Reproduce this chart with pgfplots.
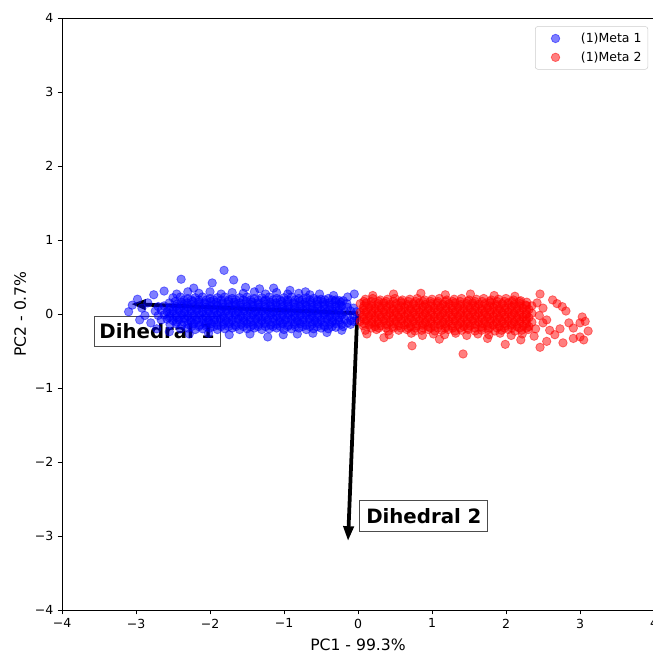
\documentclass[border=0pt]{standalone}
\usepackage{fontspec}
\setmainfont{DejaVu Sans}
\usepackage{pgfplots}
\pgfplotsset{compat=1.18}
\usetikzlibrary{arrows.meta}
\begin{document}
\begin{tikzpicture}
\useasboundingbox (-49.6pt,-34.4pt) rectangle (472.8pt,488pt);
\begin{axis}[
 scale only axis, width=473.6pt, height=473.6pt,
 xmin=-4, xmax=4, ymin=-4, ymax=4,
 xtick={-4,-3,-2,-1,0,1,2,3,4}, ytick={-4,-3,-2,-1,0,1,2,3,4},
 xticklabels={−4,−3,−2,−1,0,1,2,3,4},
 yticklabels={−4,−3,−2,−1,0,1,2,3,4},
 tick align=outside, xtick pos=bottom, ytick pos=left,
 major tick length=3.5pt,
 tick style={black, line width=0.64pt},
 axis line style={line width=0.64pt},
 ticklabel style={font=\fontsize{10}{12}\selectfont},
 xlabel={PC1 - 99.3\%}, ylabel={PC2 - 0.7\%},
 xlabel style={yshift=-1.5pt},
 label style={font=\fontsize{12.5}{15}\selectfont},
 legend cell align=left,
 legend image code/.code={\path[draw=none,fill=none] (0pt,-3pt) rectangle (31.5pt,3pt); \draw[#1] plot coordinates {(13.2pt,0pt)};},
 legend style={at={(0.99,0.986)}, anchor=north east, draw=black!20, rounded corners=2pt,
   font=\fontsize{10}{12}\selectfont, inner xsep=3pt, inner ysep=3pt, row sep=2pt},
 m1/.style={only marks, mark=*, mark size=3.4pt, mark options={fill=blue, draw=blue, fill opacity=0.5, draw opacity=0.5, line width=0.6pt}},
 m2/.style={only marks, mark=*, mark size=3.4pt, mark options={fill=red, draw=red, fill opacity=0.5, draw opacity=0.5, line width=0.6pt}},
]
% Meta 1
\addplot[m1] coordinates {
(-3.10,0.03) (-3.05,0.12) (-2.98,0.20) (-2.92,0.08) (-2.88,-0.02) (-2.95,-0.08) (-2.84,0.15) (-2.76,0.26) (-2.62,0.31) (-2.39,0.47) (-2.22,0.35) (-1.97,0.42) (-1.81,0.59) (-1.68,0.46) (-1.52,0.36) (-1.33,0.34) (-1.14,0.35) (-0.92,0.32) (-0.71,0.30) (-0.52,0.27) (-0.33,0.25) (-0.14,0.23) (-0.05,0.27)
(-2.80,-0.12) (-2.72,-0.20) (-2.55,-0.24) (-2.28,-0.27) (-2.02,-0.26) (-1.74,-0.28) (-1.46,-0.27) (-1.22,-0.31) (-1.01,-0.28) (-0.82,-0.27) (-0.61,-0.26) (-0.42,-0.25) (-0.22,-0.22)
(-2.45,0.27) (-2.30,0.30) (-2.15,0.28) (-2.00,0.30) (-1.85,0.27) (-1.70,0.29) (-1.55,0.28) (-1.40,0.30) (-1.25,0.27) (-1.10,0.29) (-0.95,0.27) (-0.80,0.28) (-0.65,0.26)
(-2.50,0.22) (-2.40,0.23) (-2.30,0.21) (-2.20,0.22) (-2.10,0.23) (-2.00,0.21) (-1.90,0.22) (-1.80,0.23) (-1.70,0.21) (-1.60,0.22) (-1.50,0.23) (-1.40,0.21) (-1.30,0.22) (-1.20,0.23) (-1.10,0.21) (-1.00,0.22) (-0.90,0.23) (-0.80,0.21) (-0.70,0.22) (-0.60,0.21) (-0.50,0.20) (-0.40,0.21) (-0.30,0.19) (-0.20,0.18)
(-2.55,0.15) (-2.47,0.17) (-2.39,0.16) (-2.31,0.15) (-2.23,0.17) (-2.15,0.16) (-2.07,0.15) (-1.99,0.17) (-1.91,0.16) (-1.83,0.15) (-1.75,0.17) (-1.67,0.16) (-1.59,0.15) (-1.51,0.17) (-1.43,0.16) (-1.35,0.15) (-1.27,0.17) (-1.19,0.16) (-1.11,0.15) (-1.03,0.17) (-0.95,0.16) (-0.87,0.15) (-0.79,0.17) (-0.71,0.16) (-0.63,0.15) (-0.55,0.17) (-0.47,0.16) (-0.39,0.15) (-0.31,0.17) (-0.23,0.16) (-0.15,0.14)
(-2.70,0.10) (-2.62,0.11) (-2.54,0.09) (-2.46,0.10) (-2.38,0.11) (-2.30,0.09) (-2.22,0.10) (-2.14,0.11) (-2.06,0.09) (-1.98,0.10) (-1.90,0.11) (-1.82,0.09) (-1.74,0.10) (-1.66,0.11) (-1.58,0.09) (-1.50,0.10) (-1.42,0.11) (-1.34,0.09) (-1.26,0.10) (-1.18,0.11) (-1.10,0.09) (-1.02,0.10) (-0.94,0.11) (-0.86,0.09) (-0.78,0.10) (-0.70,0.11) (-0.62,0.09) (-0.54,0.10) (-0.46,0.11) (-0.38,0.09) (-0.30,0.10) (-0.22,0.11) (-0.14,0.09) (-0.06,0.08)
(-2.74,0.04) (-2.66,0.05) (-2.58,0.03) (-2.50,0.04) (-2.42,0.05) (-2.34,0.03) (-2.26,0.04) (-2.18,0.05) (-2.10,0.03) (-2.02,0.04) (-1.94,0.05) (-1.86,0.03) (-1.78,0.04) (-1.70,0.05) (-1.62,0.03) (-1.54,0.04) (-1.46,0.05) (-1.38,0.03) (-1.30,0.04) (-1.22,0.05) (-1.14,0.03) (-1.06,0.04) (-0.98,0.05) (-0.90,0.03) (-0.82,0.04) (-0.74,0.05) (-0.66,0.03) (-0.58,0.04) (-0.50,0.05) (-0.42,0.03) (-0.34,0.04) (-0.26,0.05) (-0.18,0.03) (-0.10,0.04) (-0.02,0.03)
(-2.70,-0.02) (-2.62,-0.01) (-2.54,-0.03) (-2.46,-0.02) (-2.38,-0.01) (-2.30,-0.03) (-2.22,-0.02) (-2.14,-0.01) (-2.06,-0.03) (-1.98,-0.02) (-1.90,-0.01) (-1.82,-0.03) (-1.74,-0.02) (-1.66,-0.01) (-1.58,-0.03) (-1.50,-0.02) (-1.42,-0.01) (-1.34,-0.03) (-1.26,-0.02) (-1.18,-0.01) (-1.10,-0.03) (-1.02,-0.02) (-0.94,-0.01) (-0.86,-0.03) (-0.78,-0.02) (-0.70,-0.01) (-0.62,-0.03) (-0.54,-0.02) (-0.46,-0.01) (-0.38,-0.03) (-0.30,-0.02) (-0.22,-0.01) (-0.14,-0.03) (-0.06,-0.02)
(-2.66,-0.08) (-2.58,-0.07) (-2.50,-0.09) (-2.42,-0.08) (-2.34,-0.07) (-2.26,-0.09) (-2.18,-0.08) (-2.10,-0.07) (-2.02,-0.09) (-1.94,-0.08) (-1.86,-0.07) (-1.78,-0.09) (-1.70,-0.08) (-1.62,-0.07) (-1.54,-0.09) (-1.46,-0.08) (-1.38,-0.07) (-1.30,-0.09) (-1.22,-0.08) (-1.14,-0.07) (-1.06,-0.09) (-0.98,-0.08) (-0.90,-0.07) (-0.82,-0.09) (-0.74,-0.08) (-0.66,-0.07) (-0.58,-0.09) (-0.50,-0.08) (-0.42,-0.07) (-0.34,-0.09) (-0.26,-0.08) (-0.18,-0.07) (-0.10,-0.09) (-0.02,-0.06)
(-2.54,-0.14) (-2.46,-0.13) (-2.38,-0.15) (-2.30,-0.14) (-2.22,-0.13) (-2.14,-0.15) (-2.06,-0.14) (-1.98,-0.13) (-1.90,-0.15) (-1.82,-0.14) (-1.74,-0.13) (-1.66,-0.15) (-1.58,-0.14) (-1.50,-0.13) (-1.42,-0.15) (-1.34,-0.14) (-1.26,-0.13) (-1.18,-0.15) (-1.10,-0.14) (-1.02,-0.13) (-0.94,-0.15) (-0.86,-0.14) (-0.78,-0.13) (-0.70,-0.15) (-0.62,-0.14) (-0.54,-0.13) (-0.46,-0.15) (-0.38,-0.14) (-0.30,-0.13) (-0.22,-0.14) (-0.14,-0.12) (-0.06,-0.10)
(-2.40,-0.20) (-2.30,-0.19) (-2.20,-0.21) (-2.10,-0.20) (-2.00,-0.19) (-1.90,-0.21) (-1.80,-0.20) (-1.70,-0.19) (-1.60,-0.21) (-1.50,-0.20) (-1.40,-0.19) (-1.30,-0.21) (-1.20,-0.20) (-1.10,-0.19) (-1.00,-0.21) (-0.90,-0.20) (-0.80,-0.19) (-0.70,-0.21) (-0.60,-0.20) (-0.50,-0.19) (-0.40,-0.20) (-0.30,-0.18) (-0.20,-0.17) (-0.10,-0.14)
(-2.45,0.13) (-2.55,0.07) (-2.45,0.07) (-2.55,0.01) (-2.45,0.01) (-2.55,-0.05) (-2.45,-0.05) (-2.45,-0.11)
(-2.35,0.19) (-2.25,0.19) (-2.15,0.19) (-2.05,0.19) (-1.95,0.19) (-1.85,0.19) (-1.75,0.19) (-1.65,0.19) (-1.55,0.19) (-1.45,0.19) (-1.35,0.19) (-1.25,0.19) (-1.15,0.19) (-1.05,0.19) (-0.95,0.19) (-0.85,0.19) (-0.75,0.19) (-0.65,0.19) (-0.55,0.19) (-0.45,0.19) (-0.35,0.19) (-0.25,0.18)
(-2.35,0.13) (-2.25,0.13) (-2.15,0.13) (-2.05,0.13) (-1.95,0.13) (-1.85,0.13) (-1.75,0.13) (-1.65,0.13) (-1.55,0.13) (-1.45,0.13) (-1.35,0.13) (-1.25,0.13) (-1.15,0.13) (-1.05,0.13) (-0.95,0.13) (-0.85,0.13) (-0.75,0.13) (-0.65,0.13) (-0.55,0.13) (-0.45,0.13) (-0.35,0.13) (-0.25,0.13)
(-2.35,0.07) (-2.25,0.07) (-2.15,0.07) (-2.05,0.07) (-1.95,0.07) (-1.85,0.07) (-1.75,0.07) (-1.65,0.07) (-1.55,0.07) (-1.45,0.07) (-1.35,0.07) (-1.25,0.07) (-1.15,0.07) (-1.05,0.07) (-0.95,0.07) (-0.85,0.07) (-0.75,0.07) (-0.65,0.07) (-0.55,0.07) (-0.45,0.07) (-0.35,0.07) (-0.25,0.07)
(-2.35,0.01) (-2.25,0.01) (-2.15,0.01) (-2.05,0.01) (-1.95,0.01) (-1.85,0.01) (-1.75,0.01) (-1.65,0.01) (-1.55,0.01) (-1.45,0.01) (-1.35,0.01) (-1.25,0.01) (-1.15,0.01) (-1.05,0.01) (-0.95,0.01) (-0.85,0.01) (-0.75,0.01) (-0.65,0.01) (-0.55,0.01) (-0.45,0.01) (-0.35,0.01) (-0.25,0.01)
(-2.35,-0.05) (-2.25,-0.05) (-2.15,-0.05) (-2.05,-0.05) (-1.95,-0.05) (-1.85,-0.05) (-1.75,-0.05) (-1.65,-0.05) (-1.55,-0.05) (-1.45,-0.05) (-1.35,-0.05) (-1.25,-0.05) (-1.15,-0.05) (-1.05,-0.05) (-0.95,-0.05) (-0.85,-0.05) (-0.75,-0.05) (-0.65,-0.05) (-0.55,-0.05) (-0.45,-0.05) (-0.35,-0.05) (-0.25,-0.05)
(-2.35,-0.11) (-2.25,-0.11) (-2.15,-0.11) (-2.05,-0.11) (-1.95,-0.11) (-1.85,-0.11) (-1.75,-0.11) (-1.65,-0.11) (-1.55,-0.11) (-1.45,-0.11) (-1.35,-0.11) (-1.25,-0.11) (-1.15,-0.11) (-1.05,-0.11) (-0.95,-0.11) (-0.85,-0.11) (-0.75,-0.11) (-0.65,-0.11) (-0.55,-0.11) (-0.45,-0.11) (-0.35,-0.11) (-0.25,-0.11)
(-2.25,-0.17) (-2.15,-0.17) (-2.05,-0.17) (-1.95,-0.17) (-1.85,-0.17) (-1.75,-0.17) (-1.65,-0.17) (-1.55,-0.17) (-1.45,-0.17) (-1.35,-0.17) (-1.25,-0.17) (-1.15,-0.17) (-1.05,-0.17) (-0.95,-0.17) (-0.85,-0.17) (-0.75,-0.17) (-0.65,-0.17) (-0.55,-0.17) (-0.45,-0.17) (-0.35,-0.17)
};
\addlegendentry{(1)Meta 1}
% Meta 2
\addplot[m2] coordinates {
(0.20,0.25) (0.48,0.27) (0.85,0.28) (1.18,0.26) (1.52,0.27) (1.84,0.25) (2.12,0.24) (2.46,0.27) (2.63,0.19) (2.69,0.14) (2.76,0.10) (2.81,0.04) (2.42,0.15) (2.50,0.08) (2.45,-0.02) (2.55,-0.08) (2.50,-0.12) (2.59,-0.22) (2.66,-0.28) (2.73,-0.20) (2.85,-0.12) (2.91,-0.19) (3.00,-0.12) (3.03,-0.04) (3.07,-0.10) (3.11,-0.23) (3.05,-0.35) (3.00,-0.31) (2.91,-0.33) (2.77,-0.39) (2.55,-0.37) (2.46,-0.45) (2.38,-0.30) (2.40,-0.20) (1.99,-0.41) (1.42,-0.54) (0.73,-0.43) (0.35,-0.32) (1.10,-0.34) (1.75,-0.33) (2.20,-0.35)
(0.10,0.20) (0.20,0.21) (0.30,0.19) (0.40,0.20) (0.50,0.21) (0.60,0.19) (0.70,0.20) (0.80,0.21) (0.90,0.19) (1.00,0.20) (1.10,0.21) (1.20,0.19) (1.30,0.20) (1.40,0.21) (1.50,0.19) (1.60,0.20) (1.70,0.21) (1.80,0.19) (1.90,0.20) (2.00,0.21) (2.10,0.19) (2.20,0.18)
(0.03,0.14) (0.11,0.15) (0.19,0.13) (0.27,0.14) (0.35,0.15) (0.43,0.13) (0.51,0.14) (0.59,0.15) (0.67,0.13) (0.75,0.14) (0.83,0.15) (0.91,0.13) (0.99,0.14) (1.07,0.15) (1.15,0.13) (1.23,0.14) (1.31,0.15) (1.39,0.13) (1.47,0.14) (1.55,0.15) (1.63,0.13) (1.71,0.14) (1.79,0.15) (1.87,0.13) (1.95,0.14) (2.03,0.15) (2.11,0.13) (2.19,0.14) (2.27,0.12) (2.35,0.11)
(0.07,0.08) (0.15,0.09) (0.23,0.07) (0.31,0.08) (0.39,0.09) (0.47,0.07) (0.55,0.08) (0.63,0.09) (0.71,0.07) (0.79,0.08) (0.87,0.09) (0.95,0.07) (1.03,0.08) (1.11,0.09) (1.19,0.07) (1.27,0.08) (1.35,0.09) (1.43,0.07) (1.51,0.08) (1.59,0.09) (1.67,0.07) (1.75,0.08) (1.83,0.09) (1.91,0.07) (1.99,0.08) (2.07,0.09) (2.15,0.07) (2.23,0.08) (2.31,0.06)
(0.03,0.02) (0.11,0.03) (0.19,0.01) (0.27,0.02) (0.35,0.03) (0.43,0.01) (0.51,0.02) (0.59,0.03) (0.67,0.01) (0.75,0.02) (0.83,0.03) (0.91,0.01) (0.99,0.02) (1.07,0.03) (1.15,0.01) (1.23,0.02) (1.31,0.03) (1.39,0.01) (1.47,0.02) (1.55,0.03) (1.63,0.01) (1.71,0.02) (1.79,0.03) (1.87,0.01) (1.95,0.02) (2.03,0.03) (2.11,0.01) (2.19,0.02) (2.27,0.00) (2.35,0.01)
(0.07,-0.04) (0.15,-0.03) (0.23,-0.05) (0.31,-0.04) (0.39,-0.03) (0.47,-0.05) (0.55,-0.04) (0.63,-0.03) (0.71,-0.05) (0.79,-0.04) (0.87,-0.03) (0.95,-0.05) (1.03,-0.04) (1.11,-0.03) (1.19,-0.05) (1.27,-0.04) (1.35,-0.03) (1.43,-0.05) (1.51,-0.04) (1.59,-0.03) (1.67,-0.05) (1.75,-0.04) (1.83,-0.03) (1.91,-0.05) (1.99,-0.04) (2.07,-0.03) (2.15,-0.05) (2.23,-0.04) (2.31,-0.05)
(0.03,-0.10) (0.11,-0.09) (0.19,-0.11) (0.27,-0.10) (0.35,-0.09) (0.43,-0.11) (0.51,-0.10) (0.59,-0.09) (0.67,-0.11) (0.75,-0.10) (0.83,-0.09) (0.91,-0.11) (0.99,-0.10) (1.07,-0.09) (1.15,-0.11) (1.23,-0.10) (1.31,-0.09) (1.39,-0.11) (1.47,-0.10) (1.55,-0.09) (1.63,-0.11) (1.71,-0.10) (1.79,-0.09) (1.87,-0.11) (1.95,-0.10) (2.03,-0.09) (2.11,-0.11) (2.19,-0.10) (2.27,-0.09) (2.35,-0.11)
(0.07,-0.16) (0.15,-0.15) (0.23,-0.17) (0.31,-0.16) (0.39,-0.15) (0.47,-0.17) (0.55,-0.16) (0.63,-0.15) (0.71,-0.17) (0.79,-0.16) (0.87,-0.15) (0.95,-0.17) (1.03,-0.16) (1.11,-0.15) (1.19,-0.17) (1.27,-0.16) (1.35,-0.15) (1.43,-0.17) (1.51,-0.16) (1.59,-0.15) (1.67,-0.17) (1.75,-0.16) (1.83,-0.15) (1.91,-0.17) (1.99,-0.16) (2.07,-0.15) (2.15,-0.17) (2.23,-0.16) (2.31,-0.17)
(0.10,-0.22) (0.25,-0.21) (0.41,-0.23) (0.55,-0.22) (0.66,-0.21) (0.77,-0.23) (0.86,-0.22) (0.95,-0.21) (1.04,-0.23) (1.13,-0.22) (1.22,-0.21) (1.31,-0.23) (1.40,-0.22) (1.49,-0.21) (1.58,-0.23) (1.67,-0.22) (1.76,-0.21) (1.85,-0.23) (1.94,-0.22) (2.03,-0.21) (2.12,-0.23) (2.21,-0.22) (2.30,-0.21)
(0.12,-0.27) (0.42,-0.28) (0.72,-0.26) (0.87,-0.29) (1.02,-0.27) (1.17,-0.28) (1.32,-0.26) (1.47,-0.29) (1.62,-0.27) (1.77,-0.28) (1.92,-0.26) (2.07,-0.29) (2.22,-0.27)
(0.08,0.17) (0.18,0.17) (0.28,0.17) (0.38,0.17) (0.48,0.17) (0.58,0.17) (0.68,0.17) (0.78,0.17) (0.88,0.17) (0.98,0.17) (1.08,0.17) (1.18,0.17) (1.28,0.17) (1.38,0.17) (1.48,0.17) (1.58,0.17) (1.68,0.17) (1.78,0.17) (1.88,0.17) (1.98,0.17) (2.08,0.17) (2.18,0.17) (2.28,0.16)
(0.08,0.11) (0.18,0.11) (0.28,0.11) (0.38,0.11) (0.48,0.11) (0.58,0.11) (0.68,0.11) (0.78,0.11) (0.88,0.11) (0.98,0.11) (1.08,0.11) (1.18,0.11) (1.28,0.11) (1.38,0.11) (1.48,0.11) (1.58,0.11) (1.68,0.11) (1.78,0.11) (1.88,0.11) (1.98,0.11) (2.08,0.11) (2.18,0.11) (2.28,0.11)
(0.08,0.05) (0.18,0.05) (0.28,0.05) (0.38,0.05) (0.48,0.05) (0.58,0.05) (0.68,0.05) (0.78,0.05) (0.88,0.05) (0.98,0.05) (1.08,0.05) (1.18,0.05) (1.28,0.05) (1.38,0.05) (1.48,0.05) (1.58,0.05) (1.68,0.05) (1.78,0.05) (1.88,0.05) (1.98,0.05) (2.08,0.05) (2.18,0.05) (2.28,0.05)
(0.08,-0.01) (0.18,-0.01) (0.28,-0.01) (0.38,-0.01) (0.48,-0.01) (0.58,-0.01) (0.68,-0.01) (0.78,-0.01) (0.88,-0.01) (0.98,-0.01) (1.08,-0.01) (1.18,-0.01) (1.28,-0.01) (1.38,-0.01) (1.48,-0.01) (1.58,-0.01) (1.68,-0.01) (1.78,-0.01) (1.88,-0.01) (1.98,-0.01) (2.08,-0.01) (2.18,-0.01) (2.28,-0.01)
(0.08,-0.07) (0.18,-0.07) (0.28,-0.07) (0.38,-0.07) (0.48,-0.07) (0.58,-0.07) (0.68,-0.07) (0.78,-0.07) (0.88,-0.07) (0.98,-0.07) (1.08,-0.07) (1.18,-0.07) (1.28,-0.07) (1.38,-0.07) (1.48,-0.07) (1.58,-0.07) (1.68,-0.07) (1.78,-0.07) (1.88,-0.07) (1.98,-0.07) (2.08,-0.07) (2.18,-0.07) (2.28,-0.07)
(0.08,-0.13) (0.18,-0.13) (0.28,-0.13) (0.38,-0.13) (0.48,-0.13) (0.58,-0.13) (0.68,-0.13) (0.78,-0.13) (0.88,-0.13) (0.98,-0.13) (1.08,-0.13) (1.18,-0.13) (1.28,-0.13) (1.38,-0.13) (1.48,-0.13) (1.58,-0.13) (1.68,-0.13) (1.78,-0.13) (1.88,-0.13) (1.98,-0.13) (2.08,-0.13) (2.18,-0.13) (2.28,-0.13)
(0.18,-0.19) (0.28,-0.19) (0.38,-0.19) (0.48,-0.19) (0.58,-0.19) (0.68,-0.19) (0.78,-0.19) (0.88,-0.19) (0.98,-0.19) (1.08,-0.19) (1.18,-0.19) (1.28,-0.19) (1.38,-0.19) (1.48,-0.19) (1.58,-0.19) (1.68,-0.19) (1.78,-0.19) (1.88,-0.19) (1.98,-0.19) (2.08,-0.19) (2.18,-0.19) (2.28,-0.19)
};
\addlegendentry{(1)Meta 2}
% loading arrows
\addplot[white, line width=4.6pt, -{Triangle[length=12pt,width=9pt]}, forget plot] coordinates {(0,0.01) (-3.07,0.135)};
\addplot[black, line width=3pt, -{Triangle[length=12pt,width=8pt]}, forget plot] coordinates {(0,0.01) (-3.07,0.135)};
\addplot[white, line width=4.6pt, -{Triangle[length=12pt,width=9pt]}, forget plot] coordinates {(-0.01,0) (-0.135,-3.07)};
\addplot[black, line width=3pt, -{Triangle[length=12pt,width=8pt]}, forget plot] coordinates {(-0.01,0) (-0.135,-3.07)};
\node[draw=black!70, line width=0.8pt, fill=white, fill opacity=0.8, text opacity=1,
  font=\bfseries\fontsize{15.8}{19}\selectfont, minimum width=100.8pt, minimum height=24pt, inner sep=0pt]
  at (axis cs:-2.716,-0.23) {Dihedral 1};
\node[draw=black!70, line width=0.8pt, fill=white, fill opacity=0.8, text opacity=1,
  font=\bfseries\fontsize{15.8}{19}\selectfont, minimum width=102.4pt, minimum height=24.8pt, inner sep=0pt]
  at (axis cs:0.89,-2.73) {Dihedral 2};
\end{axis}
\end{tikzpicture}
\end{document}
